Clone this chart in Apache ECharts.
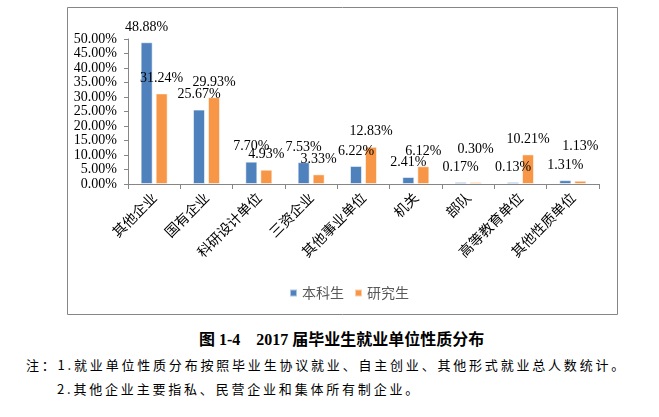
<!DOCTYPE html>
<html>
<head>
<meta charset="utf-8">
<script src="https://cdn.jsdelivr.net/npm/echarts@6/dist/echarts.min.js"></script>
<style>
  html, body { margin: 0; padding: 0; background: #fff; }
  .page { position: relative; width: 659px; height: 417px; overflow: hidden; }
  #chart { position: absolute; left: 0; top: 0; width: 659px; height: 322px; }
  .caption {
    position: absolute; left: 199px; top: 326px;
    font: bold 16px "Liberation Serif", "Noto Sans CJK SC", serif;
    white-space: pre; color: #000;
  }
  .note {
    position: absolute; font: 13px "Noto Sans CJK SC", sans-serif;
    letter-spacing: 2.8px; white-space: pre; color: #000;
  }
</style>
</head>
<body>
<div class="page">
  <div id="chart"></div>
  <div class="caption">图 1-4    2017 届毕业生就业单位性质分布</div>
  <div class="note" style="left:26px;top:355px;">注：1.就业单位性质分布按照毕业生协议就业、自主创业、其他形式就业总人数统计。</div>
  <div class="note" style="left:57px;top:379px;">2.其他企业主要指私、民营企业和集体所有制企业。</div>
</div>
<script>
// 就业单位性质（%）
const categories = ['其他企业', '国有企业', '科研设计单位', '三资企业', '其他事业单位', '机关', '部队', '高等教育单位', '其他性质单位'];
const undergrad = [48.88, 25.67, 7.70, 7.53, 6.22, 2.41, 0.17, 0.13, 1.31];
const graduate = [31.24, 29.93, 4.93, 3.33, 12.83, 6.12, 0.30, 10.21, 1.13];
const seriesNames = ['本科生', '研究生'];
const yTicks = [0, 5, 10, 15, 20, 25, 30, 35, 40, 45, 50];

const axisGray = '#868686';
const numFont = '"Liberation Serif", serif';
// labels that were nudged upward in the original so they don't collide
const graduateLabelLift = { 6: 18, 8: 19 };

const pct = v => v.toFixed(2) + '%';

const myChart = echarts.init(document.getElementById('chart'));

const barLabel = {
  show: true,
  position: 'top',
  distance: 8,
  color: '#000',
  fontFamily: numFont,
  fontSize: 14,
  formatter: p => pct(p.value),
};

const graduateData = graduate.map((v, i) =>
  graduateLabelLift[i] ? { value: v, label: { offset: [0, -graduateLabelLift[i]] } } : v
);

myChart.setOption({
  animation: false,
  color: ['#4F81BD', '#F79646'],
  graphic: [
    {
      type: 'rect',
      shape: { x: 67.5, y: 7.5, width: 550, height: 307 },
      style: { fill: 'none', stroke: axisGray, lineWidth: 1 },
      silent: true,
    },
  ],
  grid: {
    left: 128,
    right: 60,
    top: 39,
    bottom: 138,
  },
  legend: {
    data: seriesNames,
    top: 281,
    left: 284,
    icon: 'rect',
    itemWidth: 7,
    itemHeight: 7,
    itemGap: 10,
    textStyle: {
      color: '#595959',
      fontSize: 14,
      fontFamily: '"Noto Sans CJK SC", sans-serif',
    },
  },
  xAxis: {
    type: 'category',
    data: categories,
    axisLine: { lineStyle: { color: axisGray } },
    axisTick: { show: true, length: 5, lineStyle: { color: axisGray } },
    axisLabel: {
      interval: 0,
      rotate: 45,
      margin: 11,
      color: '#000',
      fontSize: 14,
      fontFamily: '"Noto Sans CJK SC", sans-serif',
    },
  },
  yAxis: {
    type: 'value',
    min: yTicks[0],
    max: yTicks[yTicks.length - 1],
    interval: yTicks[1] - yTicks[0],
    axisLine: { show: true, lineStyle: { color: axisGray } },
    axisTick: { show: true, length: 4, lineStyle: { color: axisGray } },
    splitLine: { show: false },
    axisLabel: {
      margin: 11,
      color: '#000',
      fontSize: 14,
      fontFamily: numFont,
      formatter: v => pct(v),
    },
  },
  series: [
    {
      name: seriesNames[0],
      type: 'bar',
      data: undergrad,
      barWidth: 12,
      barGap: '25%',
      barMinHeight: 2,
      itemStyle: { borderColor: 'rgba(255,255,255,0.55)', borderWidth: 1 },
      label: barLabel,
    },
    {
      name: seriesNames[1],
      type: 'bar',
      data: graduateData,
      barWidth: 12,
      barMinHeight: 2,
      itemStyle: { borderColor: 'rgba(255,255,255,0.55)', borderWidth: 1 },
      label: barLabel,
    },
  ],
});
</script>
</body>
</html>
